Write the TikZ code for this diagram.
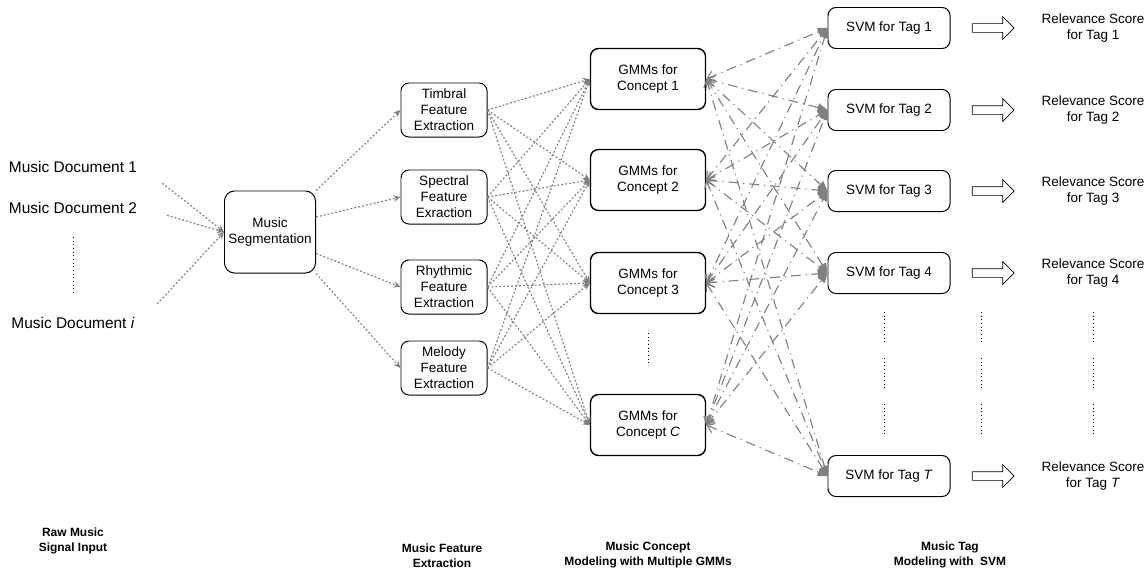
\documentclass[tikz,border=0pt]{standalone}
\usepackage{fontspec}
\setmainfont{Liberation Sans}
\usetikzlibrary{arrows.meta,shapes.arrows}
\definecolor{linkgray}{RGB}{128,128,128}

\begin{document}
\begin{tikzpicture}[
  x=0.025cm, y=-0.025cm,
  box/.style={draw=black, rounded corners=0.2cm, align=center, inner sep=0pt,
              line width=0.7pt, font=\fontsize{9.6}{11.4}\selectfont},
  segbox/.style={box, minimum width=2.275cm, minimum height=2.05cm, rounded corners=0.25cm},
  featbox/.style={box, minimum width=2.15cm, minimum height=1.35cm},
  gmmbox/.style={box, minimum width=2.875cm, minimum height=1.525cm, line width=1pt},
  svmbox/.style={box, minimum width=3.05cm, minimum height=1.025cm},
  doclabel/.style={font=\fontsize{11}{13}\selectfont},
  score/.style={align=center, font=\fontsize{9.6}{11.4}\selectfont},
  stage/.style={align=center, font=\fontsize{8.5}{10.5}\selectfont\bfseries},
  dotlink/.style={draw=linkgray, line width=0.8pt, dash pattern=on 1.4pt off 1.4pt,
                  -{Stealth[length=5pt,width=4.5pt]}},
  dashlink/.style={draw=linkgray, line width=0.8pt, dash pattern=on 7pt off 3.5pt on 0.8pt off 3.5pt,
                   {Straight Barb[length=5pt,width=7pt]}-{Triangle[length=7pt,width=6pt]}},
  hollow/.style={draw=black, single arrow, minimum height=1.05cm, minimum width=0.55cm,
                 single arrow head extend=0.175cm, inner sep=0.1cm, line width=0.5pt},
  vdots/.style={draw=black, line width=0.6pt, dotted}
]
\useasboundingbox (0,0) rectangle (1148,572);

% raw input
\node[doclabel] (doc1) at (73,167) {Music Document 1};
\node[doclabel] (doc2) at (73,208) {Music Document 2};
\node[doclabel] (doci) at (73,323) {Music Document \textit{i}};
\draw[vdots] (73,237) -- (73,292);

\node[segbox] (seg) at (270,232) {Music\\Segmentation};

% feature extraction
\node[featbox] (timbral)  at (444,110) {Timbral\\Feature\\Extraction};
\node[featbox] (spectral) at (444,197) {Spectral\\Feature\\Exraction};
\node[featbox] (rhythmic) at (444,287) {Rhythmic\\Feature\\Extraction};
\node[featbox] (melody)   at (444,368) {Melody\\Feature\\Extraction};

% concept models
\node[gmmbox] (gmm1) at (648,79)  {GMMs for\\Concept 1};
\node[gmmbox] (gmm2) at (648,180) {GMMs for\\Concept 2};
\node[gmmbox] (gmm3) at (648,283) {GMMs for\\Concept 3};
\node[gmmbox] (gmmC) at (648,425) {GMMs for\\Concept \textit{C}};
\draw[vdots] (648,333) -- (648,363);

% tag models
\node[svmbox] (svm1) at (889,28)  {SVM for Tag 1};
\node[svmbox] (svm2) at (889,110) {SVM for Tag 2};
\node[svmbox] (svm3) at (889,191) {SVM for Tag 3};
\node[svmbox] (svm4) at (889,273) {SVM for Tag 4};
\node[svmbox] (svmT) at (889,476) {SVM for Tag \textit{T}};

\foreach \t/\ty in {1/28,2/110,3/191,4/273,T/476}
  \node[hollow] (out\t) at (991,\ty) {};

\node[score] (score1) at (1093,28)  {Relevance Score\\for Tag 1};
\node[score] (score2) at (1093,110) {Relevance Score\\for Tag 2};
\node[score] (score3) at (1093,191) {Relevance Score\\for Tag 3};
\node[score] (score4) at (1093,273) {Relevance Score\\for Tag 4};
\node[score] (scoreT) at (1093,476) {Relevance Score\\for Tag \textit{T}};

\foreach \x in {884,981,1093}
  \foreach \ya/\yb in {312/343,358/389,404/435}
    \draw[vdots] (\x,\ya) -- (\x,\yb);

% connectors
\foreach \d in {doc1,doc2,doci}
  \draw[dotlink, shorten <=0.65cm] (\d.east) -- (seg.west);

\draw[dotlink] (seg.north east) -- (timbral.west);
\draw[dotlink] (seg.18) -- (spectral.west);
\draw[dotlink] (seg.-25) -- (rhythmic.west);
\draw[dotlink] (seg.south east) -- (melody.west);

\foreach \f in {timbral,spectral,rhythmic,melody}
  \foreach \g in {gmm1,gmm2,gmm3,gmmC}
    \draw[dotlink] (\f.east) -- (\g.west);

\foreach \g in {gmm1,gmm2,gmm3,gmmC}
  \foreach \s in {svm1,svm2,svm3,svm4,svmT}
    \draw[dashlink] (\g.east) -- (\s.west);

% stage labels
\node[stage] (stage1) at (73,541)  {Raw Music\\Signal Input};
\node[stage] (stage2) at (442,556) {Music Feature\\Extraction};
\node[stage] (stage3) at (648,555) {Music Concept\\Modeling with Multiple GMMs};
\node[stage] (stage4) at (950,555) {Music Tag\\Modeling with~ SVM};

\end{tikzpicture}
\end{document}
